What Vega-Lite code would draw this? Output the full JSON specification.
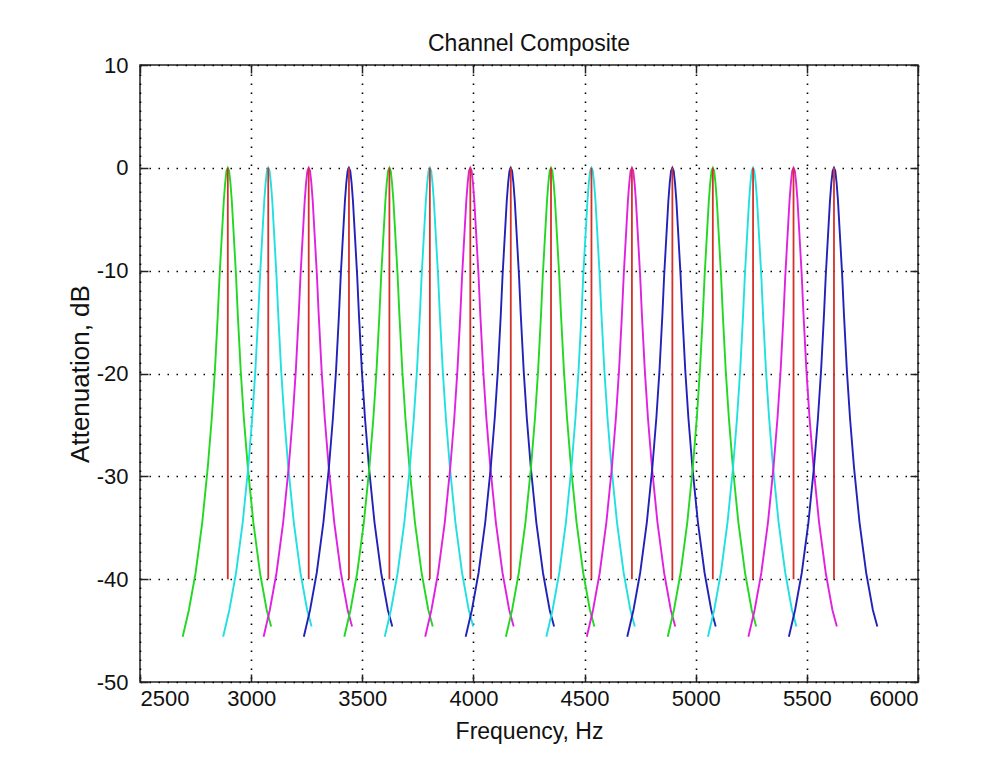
{
  "$schema": "https://vega.github.io/schema/vega-lite/v6.json",
  "width": 778,
  "height": 617,
  "autosize": {"type": "none"},
  "padding": {"left": 140, "top": 65, "right": 83, "bottom": 77},
  "background": "white",
  "title": {"text": "Channel Composite", "font": "Liberation Sans", "fontSize": 23, "fontWeight": "normal", "color": "#111", "offset": -2},
  "config": {
    "locale": {"number": {"decimal": ".", "thousands": ",", "grouping": [3], "currency": ["$", ""], "minus": "-"}},
    "view": {"stroke": "#222", "strokeWidth": 1.5},
    "axis": {
      "labelFont": "Liberation Sans", "titleFont": "Liberation Sans",
      "labelFontSize": 22, "titleFontSize": 23, "titleFontWeight": "normal",
      "labelColor": "#111", "titleColor": "#111",
      "domain": false, "tickColor": "#222", "tickWidth": 1.5, "tickSize": -8
    }
  },
  "datasets": {
    "curves": [
      {"ch":1,"f":2692,"db":-45.6},{"ch":1,"f":2720,"db":-43.0},{"ch":1,"f":2750,"db":-39.4},{"ch":1,"f":2780,"db":-34.5},{"ch":1,"f":2805,"db":-29.1},{"ch":1,"f":2823,"db":-24.3},{"ch":1,"f":2837,"db":-19.7},{"ch":1,"f":2850,"db":-14.3},{"ch":1,"f":2858,"db":-10.5},{"ch":1,"f":2865,"db":-7.8},{"ch":1,"f":2871,"db":-5.5},{"ch":1,"f":2877,"db":-3.2},{"ch":1,"f":2883,"db":-1.5},{"ch":1,"f":2889,"db":-0.3},{"ch":1,"f":2895,"db":0},{"ch":1,"f":2901,"db":-0.3},{"ch":1,"f":2907,"db":-1.5},{"ch":1,"f":2913,"db":-3.2},{"ch":1,"f":2919,"db":-5.5},{"ch":1,"f":2925,"db":-7.8},{"ch":1,"f":2932,"db":-10.5},{"ch":1,"f":2940,"db":-14.3},{"ch":1,"f":2953,"db":-19.7},{"ch":1,"f":2967,"db":-24.3},{"ch":1,"f":2985,"db":-29.1},{"ch":1,"f":3010,"db":-34.5},{"ch":1,"f":3040,"db":-39.4},{"ch":1,"f":3070,"db":-43.0},{"ch":1,"f":3090,"db":-44.6},
      {"ch":2,"f":2874,"db":-45.6},{"ch":2,"f":2902,"db":-43.0},{"ch":2,"f":2932,"db":-39.4},{"ch":2,"f":2962,"db":-34.5},{"ch":2,"f":2987,"db":-29.1},{"ch":2,"f":3005,"db":-24.3},{"ch":2,"f":3019,"db":-19.7},{"ch":2,"f":3032,"db":-14.3},{"ch":2,"f":3040,"db":-10.5},{"ch":2,"f":3047,"db":-7.8},{"ch":2,"f":3053,"db":-5.5},{"ch":2,"f":3059,"db":-3.2},{"ch":2,"f":3065,"db":-1.5},{"ch":2,"f":3071,"db":-0.3},{"ch":2,"f":3077,"db":0},{"ch":2,"f":3083,"db":-0.3},{"ch":2,"f":3089,"db":-1.5},{"ch":2,"f":3095,"db":-3.2},{"ch":2,"f":3101,"db":-5.5},{"ch":2,"f":3107,"db":-7.8},{"ch":2,"f":3114,"db":-10.5},{"ch":2,"f":3122,"db":-14.3},{"ch":2,"f":3135,"db":-19.7},{"ch":2,"f":3149,"db":-24.3},{"ch":2,"f":3167,"db":-29.1},{"ch":2,"f":3192,"db":-34.5},{"ch":2,"f":3222,"db":-39.4},{"ch":2,"f":3252,"db":-43.0},{"ch":2,"f":3272,"db":-44.6},
      {"ch":3,"f":3056,"db":-45.6},{"ch":3,"f":3084,"db":-43.0},{"ch":3,"f":3114,"db":-39.4},{"ch":3,"f":3144,"db":-34.5},{"ch":3,"f":3169,"db":-29.1},{"ch":3,"f":3187,"db":-24.3},{"ch":3,"f":3201,"db":-19.7},{"ch":3,"f":3214,"db":-14.3},{"ch":3,"f":3222,"db":-10.5},{"ch":3,"f":3229,"db":-7.8},{"ch":3,"f":3235,"db":-5.5},{"ch":3,"f":3241,"db":-3.2},{"ch":3,"f":3247,"db":-1.5},{"ch":3,"f":3253,"db":-0.3},{"ch":3,"f":3259,"db":0},{"ch":3,"f":3265,"db":-0.3},{"ch":3,"f":3271,"db":-1.5},{"ch":3,"f":3277,"db":-3.2},{"ch":3,"f":3283,"db":-5.5},{"ch":3,"f":3289,"db":-7.8},{"ch":3,"f":3296,"db":-10.5},{"ch":3,"f":3304,"db":-14.3},{"ch":3,"f":3317,"db":-19.7},{"ch":3,"f":3331,"db":-24.3},{"ch":3,"f":3349,"db":-29.1},{"ch":3,"f":3374,"db":-34.5},{"ch":3,"f":3404,"db":-39.4},{"ch":3,"f":3434,"db":-43.0},{"ch":3,"f":3454,"db":-44.6},
      {"ch":4,"f":3237,"db":-45.6},{"ch":4,"f":3265,"db":-43.0},{"ch":4,"f":3295,"db":-39.4},{"ch":4,"f":3325,"db":-34.5},{"ch":4,"f":3350,"db":-29.1},{"ch":4,"f":3368,"db":-24.3},{"ch":4,"f":3382,"db":-19.7},{"ch":4,"f":3395,"db":-14.3},{"ch":4,"f":3403,"db":-10.5},{"ch":4,"f":3410,"db":-7.8},{"ch":4,"f":3416,"db":-5.5},{"ch":4,"f":3422,"db":-3.2},{"ch":4,"f":3428,"db":-1.5},{"ch":4,"f":3434,"db":-0.3},{"ch":4,"f":3440,"db":0},{"ch":4,"f":3446,"db":-0.3},{"ch":4,"f":3452,"db":-1.5},{"ch":4,"f":3458,"db":-3.2},{"ch":4,"f":3464,"db":-5.5},{"ch":4,"f":3470,"db":-7.8},{"ch":4,"f":3477,"db":-10.5},{"ch":4,"f":3485,"db":-14.3},{"ch":4,"f":3498,"db":-19.7},{"ch":4,"f":3512,"db":-24.3},{"ch":4,"f":3530,"db":-29.1},{"ch":4,"f":3555,"db":-34.5},{"ch":4,"f":3585,"db":-39.4},{"ch":4,"f":3615,"db":-43.0},{"ch":4,"f":3635,"db":-44.6},
      {"ch":5,"f":3419,"db":-45.6},{"ch":5,"f":3447,"db":-43.0},{"ch":5,"f":3477,"db":-39.4},{"ch":5,"f":3507,"db":-34.5},{"ch":5,"f":3532,"db":-29.1},{"ch":5,"f":3550,"db":-24.3},{"ch":5,"f":3564,"db":-19.7},{"ch":5,"f":3577,"db":-14.3},{"ch":5,"f":3585,"db":-10.5},{"ch":5,"f":3592,"db":-7.8},{"ch":5,"f":3598,"db":-5.5},{"ch":5,"f":3604,"db":-3.2},{"ch":5,"f":3610,"db":-1.5},{"ch":5,"f":3616,"db":-0.3},{"ch":5,"f":3622,"db":0},{"ch":5,"f":3628,"db":-0.3},{"ch":5,"f":3634,"db":-1.5},{"ch":5,"f":3640,"db":-3.2},{"ch":5,"f":3646,"db":-5.5},{"ch":5,"f":3652,"db":-7.8},{"ch":5,"f":3659,"db":-10.5},{"ch":5,"f":3667,"db":-14.3},{"ch":5,"f":3680,"db":-19.7},{"ch":5,"f":3694,"db":-24.3},{"ch":5,"f":3712,"db":-29.1},{"ch":5,"f":3737,"db":-34.5},{"ch":5,"f":3767,"db":-39.4},{"ch":5,"f":3797,"db":-43.0},{"ch":5,"f":3817,"db":-44.6},
      {"ch":6,"f":3601,"db":-45.6},{"ch":6,"f":3629,"db":-43.0},{"ch":6,"f":3659,"db":-39.4},{"ch":6,"f":3689,"db":-34.5},{"ch":6,"f":3714,"db":-29.1},{"ch":6,"f":3732,"db":-24.3},{"ch":6,"f":3746,"db":-19.7},{"ch":6,"f":3759,"db":-14.3},{"ch":6,"f":3767,"db":-10.5},{"ch":6,"f":3774,"db":-7.8},{"ch":6,"f":3780,"db":-5.5},{"ch":6,"f":3786,"db":-3.2},{"ch":6,"f":3792,"db":-1.5},{"ch":6,"f":3798,"db":-0.3},{"ch":6,"f":3804,"db":0},{"ch":6,"f":3810,"db":-0.3},{"ch":6,"f":3816,"db":-1.5},{"ch":6,"f":3822,"db":-3.2},{"ch":6,"f":3828,"db":-5.5},{"ch":6,"f":3834,"db":-7.8},{"ch":6,"f":3841,"db":-10.5},{"ch":6,"f":3849,"db":-14.3},{"ch":6,"f":3862,"db":-19.7},{"ch":6,"f":3876,"db":-24.3},{"ch":6,"f":3894,"db":-29.1},{"ch":6,"f":3919,"db":-34.5},{"ch":6,"f":3949,"db":-39.4},{"ch":6,"f":3979,"db":-43.0},{"ch":6,"f":3999,"db":-44.6},
      {"ch":7,"f":3783,"db":-45.6},{"ch":7,"f":3811,"db":-43.0},{"ch":7,"f":3841,"db":-39.4},{"ch":7,"f":3871,"db":-34.5},{"ch":7,"f":3896,"db":-29.1},{"ch":7,"f":3914,"db":-24.3},{"ch":7,"f":3928,"db":-19.7},{"ch":7,"f":3941,"db":-14.3},{"ch":7,"f":3949,"db":-10.5},{"ch":7,"f":3956,"db":-7.8},{"ch":7,"f":3962,"db":-5.5},{"ch":7,"f":3968,"db":-3.2},{"ch":7,"f":3974,"db":-1.5},{"ch":7,"f":3980,"db":-0.3},{"ch":7,"f":3986,"db":0},{"ch":7,"f":3992,"db":-0.3},{"ch":7,"f":3998,"db":-1.5},{"ch":7,"f":4004,"db":-3.2},{"ch":7,"f":4010,"db":-5.5},{"ch":7,"f":4016,"db":-7.8},{"ch":7,"f":4023,"db":-10.5},{"ch":7,"f":4031,"db":-14.3},{"ch":7,"f":4044,"db":-19.7},{"ch":7,"f":4058,"db":-24.3},{"ch":7,"f":4076,"db":-29.1},{"ch":7,"f":4101,"db":-34.5},{"ch":7,"f":4131,"db":-39.4},{"ch":7,"f":4161,"db":-43.0},{"ch":7,"f":4181,"db":-44.6},
      {"ch":8,"f":3965,"db":-45.6},{"ch":8,"f":3993,"db":-43.0},{"ch":8,"f":4023,"db":-39.4},{"ch":8,"f":4053,"db":-34.5},{"ch":8,"f":4078,"db":-29.1},{"ch":8,"f":4096,"db":-24.3},{"ch":8,"f":4110,"db":-19.7},{"ch":8,"f":4123,"db":-14.3},{"ch":8,"f":4131,"db":-10.5},{"ch":8,"f":4138,"db":-7.8},{"ch":8,"f":4144,"db":-5.5},{"ch":8,"f":4150,"db":-3.2},{"ch":8,"f":4156,"db":-1.5},{"ch":8,"f":4162,"db":-0.3},{"ch":8,"f":4168,"db":0},{"ch":8,"f":4174,"db":-0.3},{"ch":8,"f":4180,"db":-1.5},{"ch":8,"f":4186,"db":-3.2},{"ch":8,"f":4192,"db":-5.5},{"ch":8,"f":4198,"db":-7.8},{"ch":8,"f":4205,"db":-10.5},{"ch":8,"f":4213,"db":-14.3},{"ch":8,"f":4226,"db":-19.7},{"ch":8,"f":4240,"db":-24.3},{"ch":8,"f":4258,"db":-29.1},{"ch":8,"f":4283,"db":-34.5},{"ch":8,"f":4313,"db":-39.4},{"ch":8,"f":4343,"db":-43.0},{"ch":8,"f":4363,"db":-44.6},
      {"ch":9,"f":4146,"db":-45.6},{"ch":9,"f":4174,"db":-43.0},{"ch":9,"f":4204,"db":-39.4},{"ch":9,"f":4234,"db":-34.5},{"ch":9,"f":4259,"db":-29.1},{"ch":9,"f":4277,"db":-24.3},{"ch":9,"f":4291,"db":-19.7},{"ch":9,"f":4304,"db":-14.3},{"ch":9,"f":4312,"db":-10.5},{"ch":9,"f":4319,"db":-7.8},{"ch":9,"f":4325,"db":-5.5},{"ch":9,"f":4331,"db":-3.2},{"ch":9,"f":4337,"db":-1.5},{"ch":9,"f":4343,"db":-0.3},{"ch":9,"f":4349,"db":0},{"ch":9,"f":4355,"db":-0.3},{"ch":9,"f":4361,"db":-1.5},{"ch":9,"f":4367,"db":-3.2},{"ch":9,"f":4373,"db":-5.5},{"ch":9,"f":4379,"db":-7.8},{"ch":9,"f":4386,"db":-10.5},{"ch":9,"f":4394,"db":-14.3},{"ch":9,"f":4407,"db":-19.7},{"ch":9,"f":4421,"db":-24.3},{"ch":9,"f":4439,"db":-29.1},{"ch":9,"f":4464,"db":-34.5},{"ch":9,"f":4494,"db":-39.4},{"ch":9,"f":4524,"db":-43.0},{"ch":9,"f":4544,"db":-44.6},
      {"ch":10,"f":4328,"db":-45.6},{"ch":10,"f":4356,"db":-43.0},{"ch":10,"f":4386,"db":-39.4},{"ch":10,"f":4416,"db":-34.5},{"ch":10,"f":4441,"db":-29.1},{"ch":10,"f":4459,"db":-24.3},{"ch":10,"f":4473,"db":-19.7},{"ch":10,"f":4486,"db":-14.3},{"ch":10,"f":4494,"db":-10.5},{"ch":10,"f":4501,"db":-7.8},{"ch":10,"f":4507,"db":-5.5},{"ch":10,"f":4513,"db":-3.2},{"ch":10,"f":4519,"db":-1.5},{"ch":10,"f":4525,"db":-0.3},{"ch":10,"f":4531,"db":0},{"ch":10,"f":4537,"db":-0.3},{"ch":10,"f":4543,"db":-1.5},{"ch":10,"f":4549,"db":-3.2},{"ch":10,"f":4555,"db":-5.5},{"ch":10,"f":4561,"db":-7.8},{"ch":10,"f":4568,"db":-10.5},{"ch":10,"f":4576,"db":-14.3},{"ch":10,"f":4589,"db":-19.7},{"ch":10,"f":4603,"db":-24.3},{"ch":10,"f":4621,"db":-29.1},{"ch":10,"f":4646,"db":-34.5},{"ch":10,"f":4676,"db":-39.4},{"ch":10,"f":4706,"db":-43.0},{"ch":10,"f":4726,"db":-44.6},
      {"ch":11,"f":4510,"db":-45.6},{"ch":11,"f":4538,"db":-43.0},{"ch":11,"f":4568,"db":-39.4},{"ch":11,"f":4598,"db":-34.5},{"ch":11,"f":4623,"db":-29.1},{"ch":11,"f":4641,"db":-24.3},{"ch":11,"f":4655,"db":-19.7},{"ch":11,"f":4668,"db":-14.3},{"ch":11,"f":4676,"db":-10.5},{"ch":11,"f":4683,"db":-7.8},{"ch":11,"f":4689,"db":-5.5},{"ch":11,"f":4695,"db":-3.2},{"ch":11,"f":4701,"db":-1.5},{"ch":11,"f":4707,"db":-0.3},{"ch":11,"f":4713,"db":0},{"ch":11,"f":4719,"db":-0.3},{"ch":11,"f":4725,"db":-1.5},{"ch":11,"f":4731,"db":-3.2},{"ch":11,"f":4737,"db":-5.5},{"ch":11,"f":4743,"db":-7.8},{"ch":11,"f":4750,"db":-10.5},{"ch":11,"f":4758,"db":-14.3},{"ch":11,"f":4771,"db":-19.7},{"ch":11,"f":4785,"db":-24.3},{"ch":11,"f":4803,"db":-29.1},{"ch":11,"f":4828,"db":-34.5},{"ch":11,"f":4858,"db":-39.4},{"ch":11,"f":4888,"db":-43.0},{"ch":11,"f":4908,"db":-44.6},
      {"ch":12,"f":4692,"db":-45.6},{"ch":12,"f":4720,"db":-43.0},{"ch":12,"f":4750,"db":-39.4},{"ch":12,"f":4780,"db":-34.5},{"ch":12,"f":4805,"db":-29.1},{"ch":12,"f":4823,"db":-24.3},{"ch":12,"f":4837,"db":-19.7},{"ch":12,"f":4850,"db":-14.3},{"ch":12,"f":4858,"db":-10.5},{"ch":12,"f":4865,"db":-7.8},{"ch":12,"f":4871,"db":-5.5},{"ch":12,"f":4877,"db":-3.2},{"ch":12,"f":4883,"db":-1.5},{"ch":12,"f":4889,"db":-0.3},{"ch":12,"f":4895,"db":0},{"ch":12,"f":4901,"db":-0.3},{"ch":12,"f":4907,"db":-1.5},{"ch":12,"f":4913,"db":-3.2},{"ch":12,"f":4919,"db":-5.5},{"ch":12,"f":4925,"db":-7.8},{"ch":12,"f":4932,"db":-10.5},{"ch":12,"f":4940,"db":-14.3},{"ch":12,"f":4953,"db":-19.7},{"ch":12,"f":4967,"db":-24.3},{"ch":12,"f":4985,"db":-29.1},{"ch":12,"f":5010,"db":-34.5},{"ch":12,"f":5040,"db":-39.4},{"ch":12,"f":5070,"db":-43.0},{"ch":12,"f":5090,"db":-44.6},
      {"ch":13,"f":4874,"db":-45.6},{"ch":13,"f":4902,"db":-43.0},{"ch":13,"f":4932,"db":-39.4},{"ch":13,"f":4962,"db":-34.5},{"ch":13,"f":4987,"db":-29.1},{"ch":13,"f":5005,"db":-24.3},{"ch":13,"f":5019,"db":-19.7},{"ch":13,"f":5032,"db":-14.3},{"ch":13,"f":5040,"db":-10.5},{"ch":13,"f":5047,"db":-7.8},{"ch":13,"f":5053,"db":-5.5},{"ch":13,"f":5059,"db":-3.2},{"ch":13,"f":5065,"db":-1.5},{"ch":13,"f":5071,"db":-0.3},{"ch":13,"f":5077,"db":0},{"ch":13,"f":5083,"db":-0.3},{"ch":13,"f":5089,"db":-1.5},{"ch":13,"f":5095,"db":-3.2},{"ch":13,"f":5101,"db":-5.5},{"ch":13,"f":5107,"db":-7.8},{"ch":13,"f":5114,"db":-10.5},{"ch":13,"f":5122,"db":-14.3},{"ch":13,"f":5135,"db":-19.7},{"ch":13,"f":5149,"db":-24.3},{"ch":13,"f":5167,"db":-29.1},{"ch":13,"f":5192,"db":-34.5},{"ch":13,"f":5222,"db":-39.4},{"ch":13,"f":5252,"db":-43.0},{"ch":13,"f":5272,"db":-44.6},
      {"ch":14,"f":5055,"db":-45.6},{"ch":14,"f":5083,"db":-43.0},{"ch":14,"f":5113,"db":-39.4},{"ch":14,"f":5143,"db":-34.5},{"ch":14,"f":5168,"db":-29.1},{"ch":14,"f":5186,"db":-24.3},{"ch":14,"f":5200,"db":-19.7},{"ch":14,"f":5213,"db":-14.3},{"ch":14,"f":5221,"db":-10.5},{"ch":14,"f":5228,"db":-7.8},{"ch":14,"f":5234,"db":-5.5},{"ch":14,"f":5240,"db":-3.2},{"ch":14,"f":5246,"db":-1.5},{"ch":14,"f":5252,"db":-0.3},{"ch":14,"f":5258,"db":0},{"ch":14,"f":5264,"db":-0.3},{"ch":14,"f":5270,"db":-1.5},{"ch":14,"f":5276,"db":-3.2},{"ch":14,"f":5282,"db":-5.5},{"ch":14,"f":5288,"db":-7.8},{"ch":14,"f":5295,"db":-10.5},{"ch":14,"f":5303,"db":-14.3},{"ch":14,"f":5316,"db":-19.7},{"ch":14,"f":5330,"db":-24.3},{"ch":14,"f":5348,"db":-29.1},{"ch":14,"f":5373,"db":-34.5},{"ch":14,"f":5403,"db":-39.4},{"ch":14,"f":5433,"db":-43.0},{"ch":14,"f":5453,"db":-44.6},
      {"ch":15,"f":5237,"db":-45.6},{"ch":15,"f":5265,"db":-43.0},{"ch":15,"f":5295,"db":-39.4},{"ch":15,"f":5325,"db":-34.5},{"ch":15,"f":5350,"db":-29.1},{"ch":15,"f":5368,"db":-24.3},{"ch":15,"f":5382,"db":-19.7},{"ch":15,"f":5395,"db":-14.3},{"ch":15,"f":5403,"db":-10.5},{"ch":15,"f":5410,"db":-7.8},{"ch":15,"f":5416,"db":-5.5},{"ch":15,"f":5422,"db":-3.2},{"ch":15,"f":5428,"db":-1.5},{"ch":15,"f":5434,"db":-0.3},{"ch":15,"f":5440,"db":0},{"ch":15,"f":5446,"db":-0.3},{"ch":15,"f":5452,"db":-1.5},{"ch":15,"f":5458,"db":-3.2},{"ch":15,"f":5464,"db":-5.5},{"ch":15,"f":5470,"db":-7.8},{"ch":15,"f":5477,"db":-10.5},{"ch":15,"f":5485,"db":-14.3},{"ch":15,"f":5498,"db":-19.7},{"ch":15,"f":5512,"db":-24.3},{"ch":15,"f":5530,"db":-29.1},{"ch":15,"f":5555,"db":-34.5},{"ch":15,"f":5585,"db":-39.4},{"ch":15,"f":5615,"db":-43.0},{"ch":15,"f":5635,"db":-44.6},
      {"ch":16,"f":5419,"db":-45.6},{"ch":16,"f":5447,"db":-43.0},{"ch":16,"f":5477,"db":-39.4},{"ch":16,"f":5507,"db":-34.5},{"ch":16,"f":5532,"db":-29.1},{"ch":16,"f":5550,"db":-24.3},{"ch":16,"f":5564,"db":-19.7},{"ch":16,"f":5577,"db":-14.3},{"ch":16,"f":5585,"db":-10.5},{"ch":16,"f":5592,"db":-7.8},{"ch":16,"f":5598,"db":-5.5},{"ch":16,"f":5604,"db":-3.2},{"ch":16,"f":5610,"db":-1.5},{"ch":16,"f":5616,"db":-0.3},{"ch":16,"f":5622,"db":0},{"ch":16,"f":5628,"db":-0.3},{"ch":16,"f":5634,"db":-1.5},{"ch":16,"f":5640,"db":-3.2},{"ch":16,"f":5646,"db":-5.5},{"ch":16,"f":5652,"db":-7.8},{"ch":16,"f":5659,"db":-10.5},{"ch":16,"f":5667,"db":-14.3},{"ch":16,"f":5680,"db":-19.7},{"ch":16,"f":5694,"db":-24.3},{"ch":16,"f":5712,"db":-29.1},{"ch":16,"f":5737,"db":-34.5},{"ch":16,"f":5767,"db":-39.4},{"ch":16,"f":5797,"db":-43.0},{"ch":16,"f":5817,"db":-44.6}
    ],
    "peaks": [
      {"ch":1,"f":2895,"top":0,"bottom":-40},{"ch":2,"f":3077,"top":0,"bottom":-40},{"ch":3,"f":3259,"top":0,"bottom":-40},{"ch":4,"f":3440,"top":0,"bottom":-40},
      {"ch":5,"f":3622,"top":0,"bottom":-40},{"ch":6,"f":3804,"top":0,"bottom":-40},{"ch":7,"f":3986,"top":0,"bottom":-40},{"ch":8,"f":4168,"top":0,"bottom":-40},
      {"ch":9,"f":4349,"top":0,"bottom":-40},{"ch":10,"f":4531,"top":0,"bottom":-40},{"ch":11,"f":4713,"top":0,"bottom":-40},{"ch":12,"f":4895,"top":0,"bottom":-40},
      {"ch":13,"f":5077,"top":0,"bottom":-40},{"ch":14,"f":5258,"top":0,"bottom":-40},{"ch":15,"f":5440,"top":0,"bottom":-40},{"ch":16,"f":5622,"top":0,"bottom":-40}
    ]
  },
  "layer": [
    {
      "data": {"name": "curves"},
      "mark": {"type": "line", "strokeWidth": 1.9, "clip": true},
      "encoding": {
        "x": {"field": "f", "type": "quantitative",
          "scale": {"domain": [2500, 6000], "nice": false, "zero": false},
          "axis": {"orient": "bottom", "values": [2500, 3000, 3500, 4000, 4500, 5000, 5500, 6000], "format": "d",
            "title": "Frequency, Hz", "labelPadding": 14, "titlePadding": 11,
            "grid": true, "gridColor": "#000", "gridDash": [1.5, 7.5], "gridWidth": 1.6, "gridOpacity": 1}},
        "y": {"field": "db", "type": "quantitative",
          "scale": {"domain": [-50, 10], "nice": false, "zero": false},
          "axis": {"orient": "left", "values": [-50, -40, -30, -20, -10, 0, 10], "format": "d",
            "title": "Attenuation, dB", "titleFontSize": 26, "labelPadding": 20, "titlePadding": 3,
            "grid": true, "gridColor": "#000", "gridDash": [1.5, 7.5], "gridWidth": 1.6, "gridOpacity": 1}},
        "color": {"field": "ch", "type": "nominal",
          "scale": {"domain": [1,2,3,4,5,6,7,8,9,10,11,12,13,14,15,16],
            "range": ["#22d822","#22e0e0","#e022e0","#2222b8","#22d822","#22e0e0","#e022e0","#2222b8","#22d822","#22e0e0","#e022e0","#2222b8","#22d822","#22e0e0","#e022e0","#2222b8"]},
          "legend": null}
      }
    },
    {
      "data": {"name": "peaks"},
      "mark": {"type": "rule", "color": "#d4302a", "strokeWidth": 1.8},
      "encoding": {
        "x": {"field": "f", "type": "quantitative",
          "scale": {"domain": [2500, 6000], "nice": false, "zero": false},
          "axis": {"orient": "top", "values": [2500, 3000, 3500, 4000, 4500, 5000, 5500, 6000], "labels": false, "title": null, "grid": false}},
        "y": {"field": "top", "type": "quantitative",
          "scale": {"domain": [-50, 10], "nice": false, "zero": false},
          "axis": {"orient": "right", "values": [-50, -40, -30, -20, -10, 0, 10], "labels": false, "title": null, "grid": false}},
        "y2": {"field": "bottom"}
      }
    }
  ],
  "resolve": {"axis": {"x": "independent", "y": "independent"}}
}
